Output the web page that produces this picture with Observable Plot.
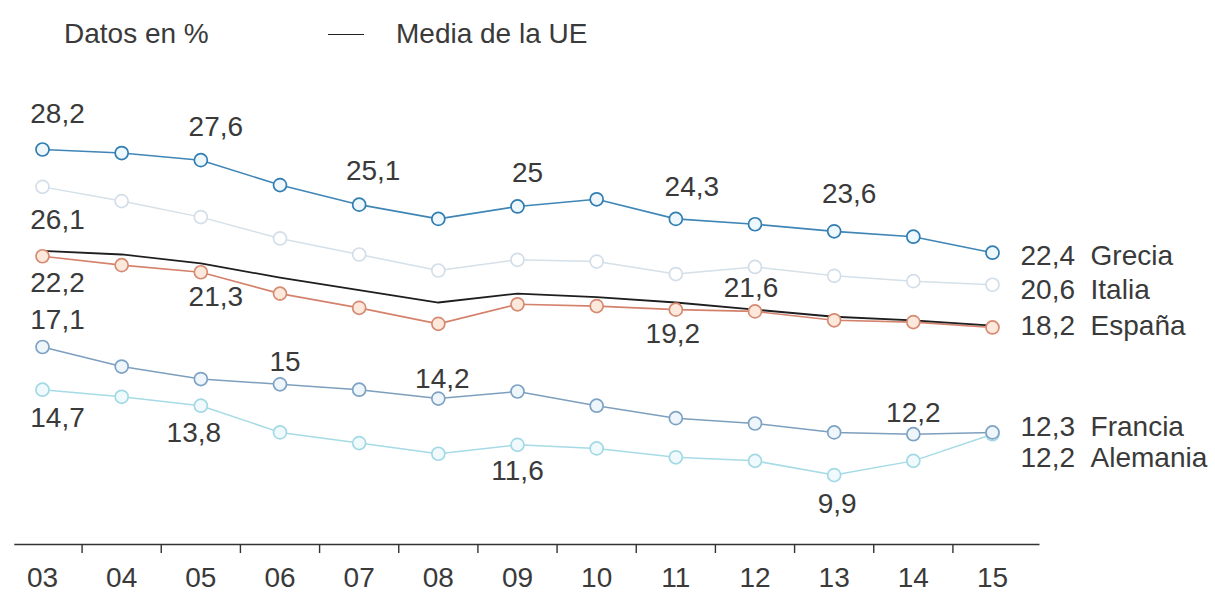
<!DOCTYPE html>
<html><head><meta charset="utf-8">
<script src="https://cdn.jsdelivr.net/npm/d3@7"></script>
<script src="https://cdn.jsdelivr.net/npm/@observablehq/plot@0.6"></script>
<style>
body{margin:0;background:#fff;font-family:"Liberation Sans",Arial,sans-serif;color:#3a3a3a}
#head{position:relative;height:70px;width:1215px}
#head span{position:absolute;font-size:28px;line-height:28px;top:20px;white-space:nowrap}
#head .dash{position:absolute;left:328px;top:34px;width:36px;height:0;border-top:1.8px solid #222}
#chart svg{display:block}
</style></head><body>
<div id="head"><span style="left:64px">Datos en %</span><div class="dash"></div><span style="left:396px">Media de la UE</span></div>
<div id="chart"></div>
<script>
// ---- data ----
const years = [2003,2004,2005,2006,2007,2008,2009,2010,2011,2012,2013,2014,2015];
const yearLabels = ["03","04","05","06","07","08","09","10","11","12","13","14","15"];
const seriesNames = ["Grecia","Italia","España","Francia","Alemania","Media de la UE"];
const grecia   = [28.2,28.0,27.6,26.2,25.1,24.3,25.0,25.4,24.3,24.0,23.6,23.3,22.4];
const italia   = [26.1,25.3,24.4,23.2,22.3,21.4,22.0,21.9,21.2,21.6,21.1,20.8,20.6];
const espana   = [22.2,21.7,21.3,20.1,19.3,18.4,19.5,19.4,19.2,19.1,18.6,18.5,18.2];
const francia  = [17.1,16.0,15.3,15.0,14.7,14.2,14.6,13.8,13.1,12.8,12.3,12.2,12.3];
const alemania = [14.7,14.3,13.8,12.3,11.7,11.1,11.6,11.4,10.9,10.7,9.9,10.7,12.2];
const mediaUE  = [22.5,22.3,21.8,21.0,20.3,19.6,20.1,19.9,19.6,19.2,18.8,18.6,18.3];
// values written next to points
const annotated = [
  ["Grecia",2003],["Grecia",2005],["Grecia",2007],["Grecia",2009],["Grecia",2011],["Grecia",2013],
  ["Italia",2003],["Italia",2012],
  ["España",2003],["España",2005],["España",2011],
  ["Francia",2003],["Francia",2006],["Francia",2008],["Francia",2014],
  ["Alemania",2003],["Alemania",2005],["Alemania",2009],["Alemania",2013]
];

// ---- styling / layout ----
const valuesByName = {"Grecia":grecia,"Italia":italia,"España":espana,"Francia":francia,"Alemania":alemania,"Media de la UE":mediaUE};
const style = {
  "Grecia":   {line:"#3f86b6", stroke:"#2f7db2", fill:"#eef8fc", w:1.6},
  "Italia":   {line:"#d5e0e8", stroke:"#d3dee8", fill:"#ffffff", w:1.5},
  "España":   {line:"#d4826c", stroke:"#d58a72", fill:"#fde8dc", w:1.6},
  "Francia":  {line:"#7d9fbe", stroke:"#7ea2c4", fill:"#eef5fb", w:1.5},
  "Alemania": {line:"#a6dbe6", stroke:"#a3d9e5", fill:"#f0fafc", w:1.5},
  "Media de la UE": {line:"#1e1e1e", w:1.8}
};
const offsets = {
  "Grecia-2003":[15,-35],"Grecia-2005":[15,-33],"Grecia-2007":[14,-34],"Grecia-2009":[10,-33],"Grecia-2011":[16,-32],"Grecia-2013":[15,-37],
  "Italia-2003":[15,33],"Italia-2012":[-4,21],
  "España-2003":[15,27],"España-2005":[15,25],"España-2011":[-3,24],
  "Francia-2003":[15,-27],"Francia-2006":[5,-22],"Francia-2008":[4,-20],"Francia-2014":[0,-21],
  "Alemania-2003":[15,28],"Alemania-2005":[-7,27],"Alemania-2009":[0,26],"Alemania-2013":[3,29]
};
const endOffsets = {"Grecia":3,"Italia":5,"España":-1,"Francia":-5,"Alemania":24};

const fmt = v => String(v).replace(".", ",");
const rowsOf = name => years.map((year,i) => ({serie:name, year, value:valuesByName[name][i]}));
const ticksMid = years.slice(0,-1).map(y => y + 0.5);
const textFill = "#3a3a3a";

const marks = [];
// axis line and ticks
marks.push(Plot.ruleY([6], {x1: 2002.65, x2: 2015.6, stroke:"#333", strokeWidth:1.6}));
marks.push(Plot.axisX({ticks: ticksMid, tickSize: 9, tickFormat: () => "", label: null, stroke:"#333", strokeWidth:1.4}));
marks.push(Plot.text(years, {x: d => d, text: (d,i) => yearLabels[i], frameAnchor:"bottom", dy:34, lineAnchor:"middle", fontSize:28, fill:textFill}));

const drawOrder = ["Italia","Alemania","Francia","España","Grecia"];
for (const name of drawOrder) {
  marks.push(Plot.line(rowsOf(name), {x:"year", y:"value", stroke: style[name].line, strokeWidth: style[name].w}));
}
marks.push(Plot.line(rowsOf("Media de la UE"), {x:"year", y:"value", stroke: style["Media de la UE"].line, strokeWidth: style["Media de la UE"].w}));
for (const name of drawOrder) {
  marks.push(Plot.dot(rowsOf(name), {x:"year", y:"value", r:6.5, stroke: style[name].stroke, fill: style[name].fill, strokeWidth:1.7}));
}
// annotations
for (const [name, year] of annotated) {
  const i = years.indexOf(year);
  const [dx, dy] = offsets[name + "-" + year];
  marks.push(Plot.text([{year, value: valuesByName[name][i]}], {x:"year", y:"value", text: d => fmt(d.value), dx, dy, lineAnchor:"middle", fontSize:28, fill:textFill}));
}
// end labels
for (const name of ["Grecia","Italia","España","Francia","Alemania"]) {
  const last = years.length - 1;
  marks.push(Plot.text([{year: years[last], value: valuesByName[name][last]}], {x:"year", y:"value", text: d => fmt(d.value) + "\u00a0\u00a0" + name, textAnchor:"start", dx:28, dy:endOffsets[name], lineAnchor:"middle", fontSize:28, fill:textFill}));
}

const chart = Plot.plot({
  width: 1215, height: 522,
  marginTop: 79, marginBottom: 48, marginLeft: 42, marginRight: 223,
  style: {fontFamily: '"Liberation Sans", Arial, sans-serif', background: "#fff", overflow: "visible"},
  x: {domain: [2003, 2015], axis: null, label: null},
  y: {domain: [6, 28.2], axis: null},
  marks
});
document.getElementById("chart").appendChild(chart);
</script>
</body></html>
